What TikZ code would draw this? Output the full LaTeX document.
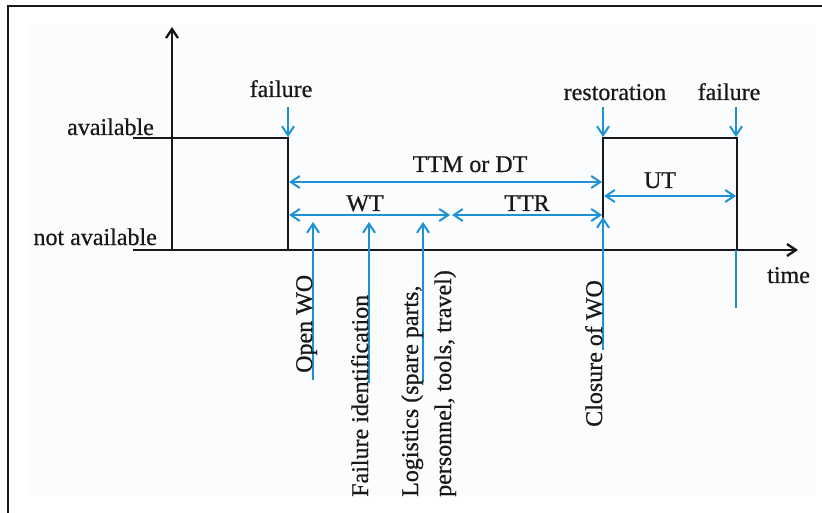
\documentclass[tikz,border=0pt]{standalone}
\usepackage{fontspec}
\setmainfont{Liberation Serif}
\newfontfamily\dfont{Liberation Serif}[FakeBold=0.6]
\usetikzlibrary{arrows.meta}
\definecolor{lblue}{RGB}{30,144,212}
\definecolor{ink}{RGB}{24,24,26}
\definecolor{bgtint}{RGB}{251,252,254}
\begin{document}
\begin{tikzpicture}[x=1pt,y=-1pt,
  lbl/.style={font=\dfont\fontsize{24}{28}\selectfont, text=ink, inner sep=0pt},
  vlbl/.style={lbl, rotate=90, anchor=base west},
  sig/.style={draw=ink, line width=2.5pt, line join=miter},
  frame/.style={draw=ink, line width=2.5pt},
  axisarrow/.style={draw=ink, line width=2.3pt, -{Straight Barb[length=9pt,width=12pt]}},
  barrow/.style={draw=lblue, line width=2pt, -{Straight Barb[length=9pt,width=12pt]}},
  dbarrow/.style={draw=lblue, line width=2pt, {Straight Barb[length=9pt,width=12pt]}-{Straight Barb[length=9pt,width=12pt]}},
  bline/.style={draw=lblue, line width=2pt}]
\useasboundingbox (0,0) rectangle (822,513);
\fill[bgtint] (29,25) rectangle (815,495);
% frame
\coordinate (fbl) at (8,514);
\coordinate (ftl) at (8,6);
\coordinate (ftr) at (823,6);
\draw[frame] (fbl) -- (ftl) -- (ftr);
% axes
\coordinate (yb) at (172,250);
\coordinate (yt) at (172,27);
\coordinate (xs) at (133,250);
\coordinate (xe) at (798,250);
\draw[axisarrow] (yb) -- (yt);
\draw[axisarrow] (xs) -- (xe);
% signal
\coordinate (a0) at (133,138);
\coordinate (f1t) at (288,138);
\coordinate (f1b) at (288,250);
\coordinate (r1b) at (603,250);
\coordinate (r1t) at (603,138);
\coordinate (f2t) at (737,138);
\coordinate (f2b) at (737,250);
\draw[sig] (a0) -- (f1t) -- (f1b);
\draw[sig] (r1b) -- (r1t) -- (f2t) -- (f2b);
% state labels
\node[lbl, anchor=base east] (avail) at (154,135) {available};
\node[lbl, anchor=base east] (navail) at (157,245) {not available};
\node[lbl, anchor=base west] (time) at (767,283) {time};
% event labels and arrows
\node[lbl, anchor=base] (fail1) at (281,97) {failure};
\node[lbl, anchor=base] (resto) at (615,100) {restoration};
\node[lbl, anchor=base] (fail2) at (729,100) {failure};
\coordinate (f1a) at (288,107);
\coordinate (f1h) at (288,137);
\coordinate (ra) at (603,107);
\coordinate (rh) at (603,137);
\coordinate (f2a) at (736,107);
\coordinate (f2h) at (736,137);
\draw[barrow] (f1a) -- (f1h);
\draw[barrow] (ra) -- (rh);
\draw[barrow] (f2a) -- (f2h);
% durations
\coordinate (ttmL) at (289,182);
\coordinate (ttmR) at (602,182);
\coordinate (wtL) at (289,215);
\coordinate (wtR) at (450,215);
\coordinate (trL) at (452,215);
\coordinate (trR) at (602,215);
\coordinate (utL) at (604,196);
\coordinate (utR) at (736,196);
\draw[dbarrow] (ttmL) -- (ttmR);
\draw[dbarrow] (wtL) -- (wtR);
\draw[dbarrow] (trL) -- (trR);
\draw[dbarrow] (utL) -- (utR);
\node[lbl, anchor=base] (ttm) at (470,172) {TTM or DT};
\node[lbl, anchor=base] (wt) at (365,211) {WT};
\node[lbl, anchor=base] (ttr) at (527,211) {TTR};
\node[lbl, anchor=base] (ut) at (660,188) {UT};
% work order events
\coordinate (o1b) at (313,380);
\coordinate (o1t) at (313,222);
\coordinate (o2b) at (369,383);
\coordinate (o2t) at (369,222);
\coordinate (o3b) at (423,382);
\coordinate (o3t) at (423,222);
\coordinate (cwb) at (603,350);
\coordinate (cwt) at (603,217);
\coordinate (f2e) at (736,308);
\coordinate (f2s) at (736,250);
\draw[barrow] (o1b) -- (o1t);
\draw[barrow] (o2b) -- (o2t);
\draw[barrow] (o3b) -- (o3t);
\draw[barrow] (cwb) -- (cwt);
\draw[bline] (f2s) -- (f2e);
\node[vlbl] (openwo) at (312,373) {Open WO};
\node[vlbl] (failid) at (368,497) {Failure identification};
\node[vlbl] (logi1) at (418,497) {Logistics (spare parts,};
\node[vlbl] (logi2) at (451,497) {personnel, tools, travel)};
\node[vlbl] (closure) at (602,427) {Closure of WO};
\end{tikzpicture}
\end{document}
